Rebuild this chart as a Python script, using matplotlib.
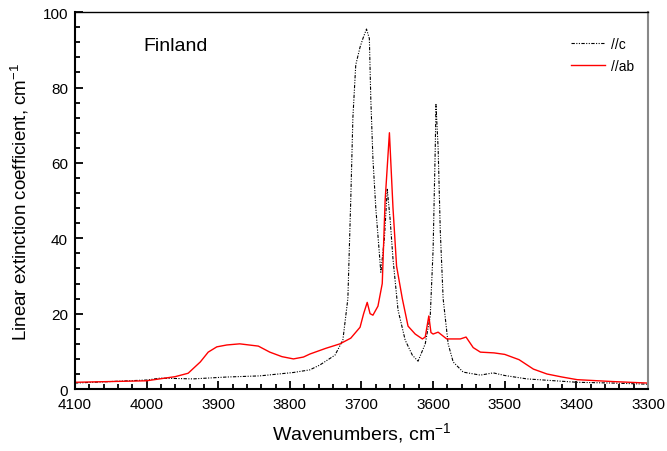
import numpy as np
import matplotlib
matplotlib.use('Agg')
import matplotlib.pyplot as plt
from matplotlib.ticker import MultipleLocator

plt.rcParams['font.family'] = ['Liberation Sans', 'DejaVu Sans']
plt.rcParams['mathtext.fontset'] = 'custom'
plt.rcParams['mathtext.rm'] = 'Liberation Sans'
plt.rcParams['mathtext.default'] = 'rm'

# //c spectrum (black)
wn_c = [4100, 4050, 4000, 3981, 3935, 3888, 3842, 3795, 3772, 3758, 3737, 3726,
        3719, 3715, 3712, 3708, 3702, 3698, 3693, 3689, 3687, 3684, 3680, 3673,
        3668, 3664, 3660, 3656, 3649, 3639, 3629, 3621, 3611, 3604, 3600, 3597,
        3596, 3593, 3590, 3586, 3579, 3572, 3558, 3534, 3516, 3500, 3469, 3430,
        3399, 3350, 3301]
k_c = [1.6, 2.0, 2.4, 2.9, 2.7, 3.2, 3.5, 4.4, 5.1, 6.4, 9, 13,
       24, 50, 72, 86, 90.7, 93, 95.5, 93, 77, 61, 48, 31,
       40, 53, 45, 34.5, 21, 13, 9, 7.4, 12, 19.4, 37, 64,
       75.5, 64, 42, 24, 12, 7.2, 4.5, 3.7, 4.3, 3.6, 2.7, 2.2,
       1.8, 1.6, 1.3]

# //ab spectrum (red)
wn_ab = [4100, 4050, 4000, 3960, 3942, 3925, 3914, 3902, 3888, 3870, 3844, 3828,
         3811, 3795, 3781, 3772, 3750, 3730, 3715, 3702, 3697, 3692, 3688, 3684,
         3677, 3671, 3667, 3661, 3656, 3651, 3643, 3635, 3625, 3615, 3611, 3606,
         3603, 3600, 3593, 3581, 3562, 3554, 3544, 3534, 3515, 3500, 3480, 3460,
         3441, 3420, 3399, 3350, 3301]
k_ab = [1.8, 2.0, 2.2, 3.3, 4.2, 7.2, 9.8, 11.2, 11.7, 12, 11.4, 9.8,
        8.6, 8.0, 8.5, 9.3, 10.8, 12, 13.5, 16.4, 20, 23, 20, 19.6,
        22, 28, 50, 68, 48, 32.6, 24, 16.7, 14.6, 13.3, 13.8, 19.4,
        15, 14.6, 15.1, 13.3, 13.3, 13.8, 11, 9.8, 9.6, 9.2, 7.8, 5.3,
        4.0, 3.2, 2.5, 2.0, 1.6]

fig = plt.figure(figsize=(6.67, 4.52), dpi=100)
ax = fig.add_axes([0.1124, 0.137, 0.8591, 0.834])

ax.plot(wn_c, k_c, color='black', lw=0.8, linestyle=(0, (3, 1.3, 1, 1.3, 1, 1.3)), label='//c')
ax.plot(wn_ab, k_ab, color='red', lw=1.0, label='//ab')

ax.set_xlim(4100, 3300)
ax.set_ylim(0, 100)
ax.xaxis.set_major_locator(MultipleLocator(100))
ax.xaxis.set_minor_locator(MultipleLocator(20))
ax.yaxis.set_major_locator(MultipleLocator(20))
ax.yaxis.set_minor_locator(MultipleLocator(4))
ax.tick_params(which='both', direction='in', top=False, right=False, labelsize=11, width=1.3)
ax.tick_params(which='major', length=6, pad=5)
ax.tick_params(axis='x', which='major', pad=6)
ax.tick_params(which='minor', length=3.5)
for s in ['left', 'bottom']:
    ax.spines[s].set_linewidth(1.5)
ax.spines['top'].set_linewidth(1.0)
ax.spines['right'].set_linewidth(1.5)
ax.spines['right'].set_color('#888888')

ax.set_xlabel(r'Wavenumbers, cm$^{-1}$', fontsize=14, labelpad=6)
ax.set_ylabel(r'Linear extinction coefficient, cm$^{-1}$', fontsize=13.5, labelpad=8)

ax.text(0.12, 0.9, 'Finland', transform=ax.transAxes, fontsize=14)

ax.legend(loc='upper left', bbox_to_anchor=(0.866, 0.935), frameon=False, fontsize=10,
          handlelength=2.4, handletextpad=0.45, labelspacing=0.6, borderpad=0, borderaxespad=0)

fig.savefig('out.png', dpi=100)
